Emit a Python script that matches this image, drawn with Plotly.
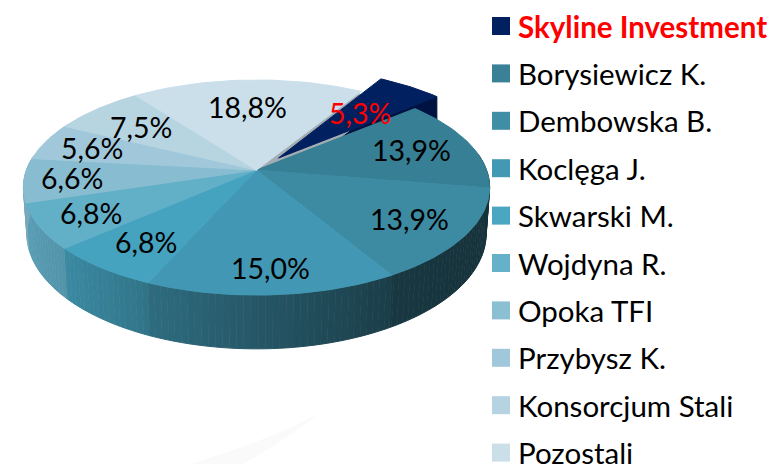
import numpy as np
import plotly.graph_objects as go

names = ["Skyline Investment", "Borysiewicz K.", "Dembowska B.", "Koclęga J.", "Skwarski M.",
         "Wojdyna R.", "Opoka TFI", "Przybysz K.", "Konsorcjum Stali", "Pozostali"]
shares = [5.3, 13.9, 13.9, 15.0, 6.8, 6.8, 6.6, 5.6, 7.5, 18.8]
face_colors = ["#00205f", "#367f94", "#3d8ba3", "#4298b4", "#45a3bf",
               "#62afc8", "#88bdd1", "#a0c8da", "#b7d4e1", "#cadfe9"]
legend_colors = ["#00205f", "#3a8097", "#3f8ea6", "#4398b3", "#4aa6c1",
                 "#65b1ca", "#8bbfd2", "#a0c8da", "#b5d3e0", "#cadfe8"]

# label placement, kept apart from the data
label_radius = [0.60, 0.73, 0.76, 0.81, 0.76, 0.78, 0.79, 0.76, 0.685, 0.67]
label_xshift = [-1, -2, -2, 1, 3, 1, -1, -3, -3, -3]

# view of the pie, in page pixels
APEX_X, APEX_Y = 256.5, 170.0
A, B, K = 230.0, 104.7, 0.163
THICK = 45.0
START = 30.5
EXPLODE = (22.0, -12.0)
LEG_TOP, LEG_STEP = 26.0, 47.4
FONT = "Lato"
LAB_SIZE = 28.5
LEG_SIZE = 29.5


def project(ang, r=1.0, drop=0.0, dx=0.0, dy=0.0):
    t = np.radians(ang)
    u, v = r * np.sin(t), -r * np.cos(t)
    w = 1 - K * v
    scale = 1 - 0.015 * (drop > 0)
    return APEX_X + dx + scale * A * u / w, APEX_Y + dy + B * v / w + drop * THICK / w


def mix(col, f):
    c = [int(col[i:i + 2], 16) for i in (1, 3, 5)]
    return "rgb(%d,%d,%d)" % tuple(round(x * f) for x in c)


def poly(xs, ys, color):
    return go.Scatter(x=list(xs), y=list(ys), mode="lines", fill="toself", fillcolor=color,
                      line=dict(color=color, width=1), hoverinfo="skip", showlegend=False)


shade_x = [23, 68, 153, 395, 490]
shade_f = [0.90, 0.84, 0.70, 0.40, 0.36]

edges = START + np.concatenate([[0], np.cumsum(shares)]) * 3.6
traces = []
annots = []

# exploded first slice: wall, then grey cut of the body, then top
a0, a1 = edges[0], edges[1]
sx, sy = EXPLODE
ex, ey = project(a1, dx=sx, dy=sy)
ax_, ay_ = project(a1, r=0.0, dx=sx, dy=sy)
traces.append(poly([ax_, ex, ex, ax_], [ay_, ey, ey + 40, ay_ + 40], "#001242"))

gx, gy = project(a0)
hx, hy = project(a0, r=0.0)
traces.append(poly([hx, gx, gx + 3, hx + 3], [hy, gy, gy + 30, hy + 30], "#a3acb3"))

arc = np.linspace(a0, a1, 20)
xs, ys = project(arc, dx=sx, dy=sy)
traces.append(poly(np.r_[ax_, xs, ax_], np.r_[ay_, ys, ay_], face_colors[0]))

# body wall
for i in range(1, len(shares)):
    angs = np.arange(edges[i], edges[i + 1] + 1.5, 1.5)
    angs = np.minimum(angs, edges[i + 1])
    for p, q in zip(angs[:-1], angs[1:]):
        if -np.cos(np.radians((p + q) / 2)) < -0.15:
            continue
        x1, y1 = project(p)
        x2, y2 = project(q)
        x3, y3 = project(q, drop=1)
        x4, y4 = project(p, drop=1)
        f = np.interp((x1 + x2) / 2, shade_x, shade_f)
        traces.append(poly([x1, x2, x3, x4], [y1, y2, y3, y4], mix(face_colors[i], f)))

# body top
for i in range(1, len(shares)):
    arc = np.linspace(edges[i], edges[i + 1], 40)
    xs, ys = project(arc)
    traces.append(poly(np.r_[APEX_X, xs, APEX_X], np.r_[APEX_Y, ys, APEX_Y], face_colors[i]))

# value labels
for i, v in enumerate(shares):
    mid = (edges[i] + edges[i + 1]) / 2
    off = EXPLODE if i == 0 else (0, 0)
    lx, ly = project(mid, r=label_radius[i], dx=off[0], dy=off[1])
    annots.append(dict(x=lx, y=ly, xref="x", yref="y", showarrow=False, xshift=label_xshift[i],
                       text=f"{v:.1f}%".replace(".", ","),
                       font=dict(family=FONT, size=LAB_SIZE, color="#ff0000" if i == 0 else "#000000")))

# legend
leg_y = [LEG_TOP + i * LEG_STEP for i in range(len(names))]
traces.append(go.Scatter(x=[501] * len(names), y=leg_y, mode="markers", hoverinfo="skip", showlegend=False,
                         marker=dict(symbol="square", size=18, color=legend_colors, line=dict(width=0))))
for i, n in enumerate(names):
    annots.append(dict(x=516, y=leg_y[i], xref="x", yref="y", xanchor="left", showarrow=False,
                       text=f"<b>{n}</b>" if i == 0 else n,
                       font=dict(family=FONT, size=LEG_SIZE, color="#ff0000" if i == 0 else "#000000")))

fig = go.Figure(traces)
fig.update_layout(
    width=774, height=465, margin=dict(l=0, r=0, t=0, b=0),
    paper_bgcolor="white", plot_bgcolor="white", showlegend=False,
    xaxis=dict(range=[0, 774], visible=False, fixedrange=True),
    yaxis=dict(range=[465, 0], visible=False, fixedrange=True),
    annotations=annots,
    shapes=[dict(type="path", layer="below", xref="x", yref="y", line=dict(width=0), fillcolor="#fafafa",
                 path="M 320 413 Q 285 440 243 464 L 190 464 Q 270 440 320 413 Z")],
)
fig.write_html("out.html", post_script="document.body.style.margin='0';", config={"displayModeBar": False})
